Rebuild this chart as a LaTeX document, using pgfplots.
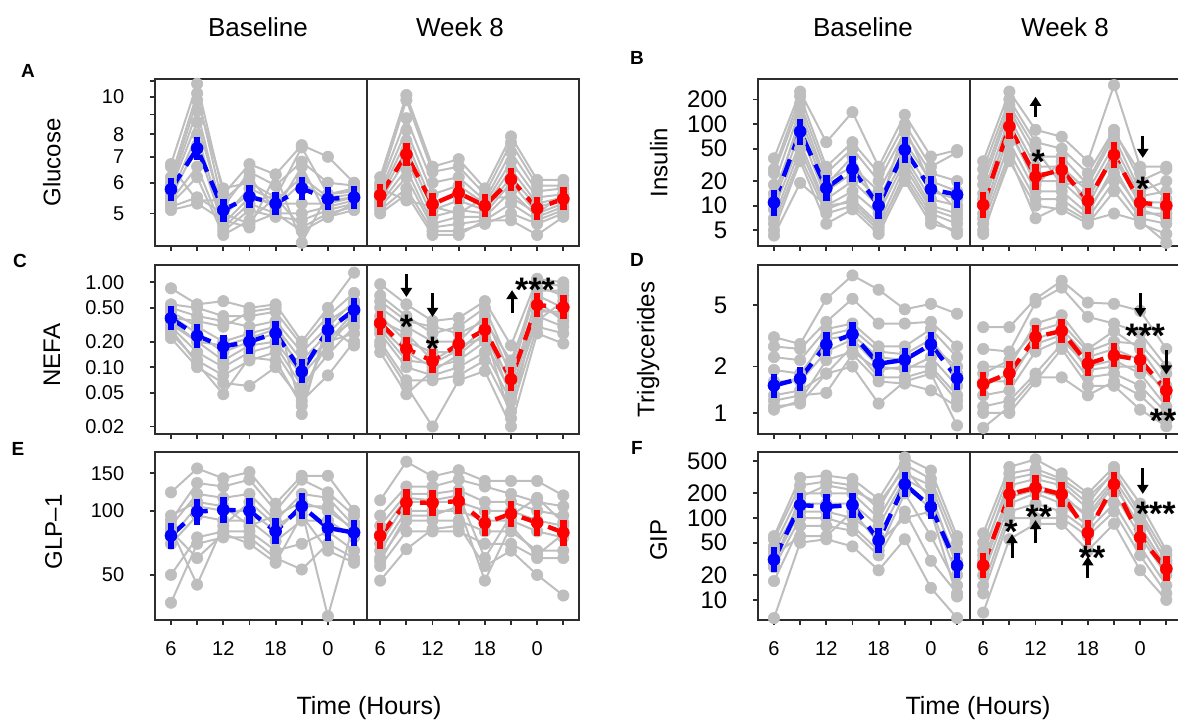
\documentclass[border=0pt]{standalone}
\usepackage{fontspec}
\setmainfont{Liberation Sans}
\usepackage{pgfplots}
\usepackage{pgfplotstable}
\pgfplotsset{compat=1.18}
\usetikzlibrary{arrows.meta}
\definecolor{gr}{RGB}{190,190,190}
\definecolor{mb}{RGB}{0,0,255}
\definecolor{mr}{RGB}{255,0,0}
\definecolor{fr}{RGB}{45,45,45}
% mean values: t = time index, b = baseline, r = week 8
\pgfplotstableread{
t b r
1 5.77 5.57
2 7.36 7.1
3 5.1 5.28
4 5.52 5.65
5 5.3 5.23
6 5.8 6.12
7 5.45 5.15
8 5.5 5.45
}\mA
\pgfplotstableread{
t b r
1 10.9 10.2
2 81 93.5
3 16.4 22.7
4 28 27.4
5 10 11.5
6 48.3 42
7 15.9 10.9
8 13.6 10.0
}\mB
\pgfplotstableread{
t b r
1 0.377 0.33
2 0.234 0.165
3 0.175 0.118
4 0.2 0.187
5 0.251 0.275
6 0.089 0.072
7 0.275 0.54
8 0.472 0.508
}\mC
\pgfplotstableread{
t b r
1 1.506 1.545
2 1.667 1.81
3 2.78 3.11
4 3.24 3.4
5 2.085 2.085
6 2.21 2.36
7 2.78 2.21
8 1.68 1.40
}\mD
\pgfplotstableread{
t b r
1 76.5 76.3
2 99 109.4
3 101 109
4 100 111
5 80 87.5
6 105 96.8
7 83 88
8 79 79
}\mE
\pgfplotstableread{
t b r
1 31 26.4
2 144 195
3 137 234
4 144 195
5 53.5 66
6 258 258
7 137 58
8 26.4 24
}\mF
\pgfplotsset{
  pnl/.style={
    scale only axis, width=211.85pt, xmin=0.4, xmax=16.6,
    clip=false,
    axis line style={fr, line width=0.9pt},
    tick style={fr, line width=0.9pt},
    major tick length=2.5pt, tick align=outside,
    xtick={1,...,16}, xticklabels={},
    xtick pos=bottom, ytick pos=left,
    yminorticks=false, xminorticks=false,
    ticklabel style={font=\fontsize{10}{12}\selectfont},
    yticklabel style={xshift=-9.5pt},
    ylabel style={font=\fontsize{12}{14}\selectfont, anchor=center},
  },
  bigy/.style={yticklabel style={font=\fontsize{12}{14}\selectfont}},
  gl/.style={gr, line width=1pt, mark=*, mark size=2.85pt, mark options={gr, solid, line width=0.3pt}},
  wk/.style={x filter/.expression={x+8}},
  mline/.style={line width=2.2pt, dash pattern=on 9pt off 5pt, mark=*, mark size=3pt,
    mark options={solid, line width=0.3pt}},
  ebar/.style={only marks, mark=|, mark size=#1, mark options={line width=3.2pt, solid}},
  botlab/.style={xticklabels={6,,12,,18,,0,,6,,12,,18,,0,}, xticklabel style={yshift=-4.5pt}},
}
\tikzset{
  arr/.style={-{Triangle[width=5.5pt,length=4.5pt]}, line width=1.5pt, black},
  ast/.style={font=\fontsize{17}{17}\selectfont\bfseries, anchor=base, yshift=-9.4pt, inner sep=0pt},
}
\newcommand\means[2]{%
\addplot[mb, ebar=#2] table[x=t,y=b]{#1};
\addplot[mr, ebar=#2] table[x expr=\thisrow{t}+8,y=r]{#1};
\addplot[mb, mline] table[x=t,y=b]{#1};
\addplot[mr, mline] table[x expr=\thisrow{t}+8,y=r]{#1};
}
\begin{document}
\begin{tikzpicture}
\useasboundingbox (0,0) rectangle (589pt,359.5pt);
\clip (0,0) rectangle (589pt,359.5pt);

% ---------------- A: Glucose ----------------
\begin{axis}[pnl, ymode=log, at={(77.65pt,236.5pt)}, anchor=south west, height=83.5pt, ymin=4.12, ymax=11.11,
  ytick={5,6,7,8,9,10,11}, yticklabels={5,6,7,8,,10,},
  ylabel={Glucose}, ylabel style={at={(axis description cs:-0.244,0.5)}}]
\addplot[gl] coordinates{(1,6.7)(2,10.8)(3,5.6)(4,6.7)(5,6.3)(6,7.5)(7,7.0)(8,6.0)};
\addplot[gl] coordinates{(1,6.2)(2,10.2)(3,5.2)(4,6.4)(5,5.9)(6,6.8)(7,6.0)(8,5.9)};
\addplot[gl] coordinates{(1,6.0)(2,9.8)(3,5.8)(4,6.0)(5,5.5)(6,7.4)(7,5.6)(8,5.8)};
\addplot[gl] coordinates{(1,5.9)(2,9.2)(3,4.9)(4,5.8)(5,5.4)(6,6.2)(7,5.5)(8,5.6)};
\addplot[gl] coordinates{(1,5.8)(2,8.6)(3,5.0)(4,5.6)(5,5.2)(6,6.0)(7,5.4)(8,5.5)};
\addplot[gl] coordinates{(1,5.6)(2,8.0)(3,4.7)(4,5.5)(5,5.3)(6,5.3)(7,5.3)(8,5.5)};
\addplot[gl] coordinates{(1,5.5)(2,7.5)(3,4.6)(4,5.3)(5,5.0)(6,5.0)(7,5.2)(8,5.4)};
\addplot[gl] coordinates{(1,5.4)(2,6.6)(3,4.5)(4,5.1)(5,4.9)(6,4.8)(7,5.1)(8,5.3)};
\addplot[gl] coordinates{(1,5.3)(2,6.2)(3,4.4)(4,4.8)(5,5.5)(6,4.6)(7,5.0)(8,5.2)};
\addplot[gl] coordinates{(1,5.2)(2,5.5)(3,5.0)(4,4.7)(5,5.0)(6,4.5)(7,4.9)(8,5.1)};
\addplot[gl] coordinates{(1,5.1)(2,5.3)(3,4.8)(4,4.6)(5,6.3)(6,4.2)(7,5.6)(8,5.7)};
\addplot[gl] coordinates{(1,6.6)(2,5.4)(3,5.4)(4,6.2)(5,5.1)(6,6.6)(7,4.9)(8,5.3)};
\addplot[gl,wk] coordinates{(1,6.2)(2,10.1)(3,6.6)(4,6.9)(5,5.8)(6,7.9)(7,6.1)(8,6.1)};
\addplot[gl,wk] coordinates{(1,6.0)(2,9.8)(3,6.4)(4,6.6)(5,5.6)(6,7.6)(7,5.9)(8,5.9)};
\addplot[gl,wk] coordinates{(1,5.9)(2,8.8)(3,6.0)(4,6.2)(5,5.4)(6,7.2)(7,5.7)(8,5.8)};
\addplot[gl,wk] coordinates{(1,5.7)(2,8.2)(3,5.6)(4,5.9)(5,5.3)(6,6.8)(7,5.5)(8,5.6)};
\addplot[gl,wk] coordinates{(1,5.6)(2,7.7)(3,5.3)(4,5.6)(5,5.2)(6,6.5)(7,5.3)(8,5.5)};
\addplot[gl,wk] coordinates{(1,5.5)(2,7.3)(3,5.1)(4,5.4)(5,5.1)(6,6.2)(7,5.2)(8,5.4)};
\addplot[gl,wk] coordinates{(1,5.4)(2,6.9)(3,4.9)(4,5.1)(5,5.0)(6,6.0)(7,5.0)(8,5.3)};
\addplot[gl,wk] coordinates{(1,5.3)(2,6.5)(3,4.7)(4,4.9)(5,4.9)(6,5.7)(7,4.9)(8,5.2)};
\addplot[gl,wk] coordinates{(1,5.2)(2,6.2)(3,4.6)(4,4.7)(5,4.8)(6,5.3)(7,4.8)(8,5.1)};
\addplot[gl,wk] coordinates{(1,5.1)(2,5.8)(3,4.5)(4,4.5)(5,4.7)(6,5.0)(7,4.7)(8,5.0)};
\addplot[gl,wk] coordinates{(1,5.0)(2,5.6)(3,4.4)(4,4.4)(5,4.8)(6,4.8)(7,4.4)(8,4.9)};
\addplot[gl,wk] coordinates{(1,5.8)(2,5.4)(3,5.2)(4,5.0)(5,5.5)(6,5.5)(7,5.0)(8,5.6)};
\draw[fr, line width=0.9pt] (rel axis cs:0.5,0) -- (rel axis cs:0.5,1);
\means{\mA}{5.75pt}
\end{axis}

% ---------------- B: Insulin ----------------
\begin{axis}[pnl, bigy, ymode=log, at={(379.15pt,236.5pt)}, anchor=south west, height=83.5pt, ymin=3.2, ymax=357,
  ytick={5,10,20,50,100,200}, yticklabels={5,10,20,50,100,200},
  ylabel={Insulin}, ylabel style={at={(axis description cs:-0.235,0.5)}}]
\addplot[gl] coordinates{(1,38)(2,250)(3,60)(4,140)(5,30)(6,130)(7,40)(8,48)};
\addplot[gl] coordinates{(1,28)(2,220)(3,30)(4,60)(5,25)(6,100)(7,30)(8,45)};
\addplot[gl] coordinates{(1,25)(2,180)(3,25)(4,50)(5,20)(6,80)(7,25)(8,20)};
\addplot[gl] coordinates{(1,18)(2,150)(3,20)(4,30)(5,15)(6,60)(7,20)(8,15)};
\addplot[gl] coordinates{(1,14)(2,100)(3,15)(4,25)(5,12)(6,50)(7,15)(8,12)};
\addplot[gl] coordinates{(1,11)(2,80)(3,12)(4,20)(5,10)(6,40)(7,12)(8,10)};
\addplot[gl] coordinates{(1,9)(2,60)(3,10)(4,15)(5,8)(6,35)(7,10)(8,8)};
\addplot[gl] coordinates{(1,7)(2,50)(3,9)(4,12)(5,6)(6,30)(7,9)(8,7)};
\addplot[gl] coordinates{(1,6)(2,40)(3,8)(4,10)(5,5)(6,25)(7,8)(8,6)};
\addplot[gl] coordinates{(1,5)(2,35)(3,6)(4,9)(5,4.5)(6,20)(7,6)(8,5)};
\addplot[gl] coordinates{(1,4.3)(2,19)(3,10)(4,11)(5,5.5)(6,22)(7,7)(8,4.5)};
\addplot[gl] coordinates{(1,12)(2,120)(3,18)(4,40)(5,9)(6,90)(7,18)(8,9)};
\addplot[gl,wk] coordinates{(1,35)(2,250)(3,85)(4,70)(5,35)(6,300)(7,30)(8,30)};
\addplot[gl,wk] coordinates{(1,28)(2,200)(3,60)(4,50)(5,25)(6,85)(7,20)(8,28)};
\addplot[gl,wk] coordinates{(1,18)(2,150)(3,40)(4,40)(5,18)(6,70)(7,15)(8,20)};
\addplot[gl,wk] coordinates{(1,14)(2,120)(3,30)(4,30)(5,15)(6,55)(7,13)(8,15)};
\addplot[gl,wk] coordinates{(1,10)(2,100)(3,25)(4,25)(5,12)(6,45)(7,11)(8,11)};
\addplot[gl,wk] coordinates{(1,8)(2,80)(3,20)(4,20)(5,10)(6,40)(7,10)(8,9)};
\addplot[gl,wk] coordinates{(1,7)(2,60)(3,15)(4,15)(5,8)(6,30)(7,8)(8,8)};
\addplot[gl,wk] coordinates{(1,6)(2,45)(3,12)(4,12)(5,7)(6,20)(7,7)(8,6)};
\addplot[gl,wk] coordinates{(1,5)(2,35)(3,10)(4,9)(5,6)(6,15)(7,6)(8,4.5)};
\addplot[gl,wk] coordinates{(1,4.5)(2,40)(3,7)(4,10)(5,6.5)(6,8)(7,6.5)(8,3.5)};
\addplot[gl,wk] coordinates{(1,12)(2,90)(3,18)(4,35)(5,9)(6,25)(7,9)(8,7)};
\addplot[gl,wk] coordinates{(1,22)(2,170)(3,50)(4,18)(5,20)(6,80)(7,25)(8,12)};
\draw[fr, line width=0.9pt] (rel axis cs:0.5,0) -- (rel axis cs:0.5,1);
\means{\mB}{6.5pt}
\coordinate (b1) at (axis cs:11,123); \coordinate (b2) at (axis cs:11,216);
\coordinate (b3) at (axis cs:11.1,42);
\coordinate (b4) at (axis cs:15.1,72); \coordinate (b5) at (axis cs:15.1,38.5);
\coordinate (b6) at (axis cs:15.1,19.5);
\end{axis}
\draw[arr] (b1) -- (b2); \node[ast] at (b3) {*};
\draw[arr] (b4) -- (b5); \node[ast] at (b6) {*};

% ---------------- C: NEFA ----------------
\begin{axis}[pnl, ymode=log, at={(77.65pt,142.5pt)}, anchor=south west, height=84.5pt, ymin=0.0163, ymax=1.6,
  ytick={0.02,0.05,0.1,0.2,0.5,1}, yticklabels={0.02,0.05,0.10,0.20,0.50,1.00},
  ylabel={NEFA}, ylabel style={at={(axis description cs:-0.244,0.467)}}]
\addplot[gl] coordinates{(1,0.85)(2,0.55)(3,0.6)(4,0.5)(5,0.55)(6,0.2)(7,0.5)(8,1.3)};
\addplot[gl] coordinates{(1,0.55)(2,0.5)(3,0.4)(4,0.4)(5,0.45)(6,0.18)(7,0.4)(8,0.75)};
\addplot[gl] coordinates{(1,0.5)(2,0.4)(3,0.35)(4,0.3)(5,0.35)(6,0.15)(7,0.3)(8,0.6)};
\addplot[gl] coordinates{(1,0.45)(2,0.3)(3,0.2)(4,0.25)(5,0.3)(6,0.12)(7,0.25)(8,0.5)};
\addplot[gl] coordinates{(1,0.4)(2,0.25)(3,0.15)(4,0.2)(5,0.25)(6,0.1)(7,0.2)(8,0.45)};
\addplot[gl] coordinates{(1,0.35)(2,0.2)(3,0.12)(4,0.18)(5,0.2)(6,0.08)(7,0.18)(8,0.4)};
\addplot[gl] coordinates{(1,0.3)(2,0.15)(3,0.1)(4,0.15)(5,0.18)(6,0.06)(7,0.14)(8,0.3)};
\addplot[gl] coordinates{(1,0.25)(2,0.12)(3,0.08)(4,0.12)(5,0.15)(6,0.05)(7,0.2)(8,0.25)};
\addplot[gl] coordinates{(1,0.22)(2,0.1)(3,0.065)(4,0.06)(5,0.1)(6,0.04)(7,0.08)(8,0.2)};
\addplot[gl] coordinates{(1,0.28)(2,0.11)(3,0.048)(4,0.13)(5,0.12)(6,0.035)(7,0.3)(8,0.18)};
\addplot[gl] coordinates{(1,0.38)(2,0.35)(3,0.3)(4,0.45)(5,0.5)(6,0.028)(7,0.35)(8,0.55)};
\addplot[gl] coordinates{(1,0.32)(2,0.2)(3,0.18)(4,0.22)(5,0.28)(6,0.09)(7,0.22)(8,0.35)};
\addplot[gl,wk] coordinates{(1,0.95)(2,0.55)(3,0.35)(4,0.38)(5,0.6)(6,0.18)(7,1.1)(8,1.0)};
\addplot[gl,wk] coordinates{(1,0.7)(2,0.4)(3,0.25)(4,0.3)(5,0.5)(6,0.1)(7,1.0)(8,0.9)};
\addplot[gl,wk] coordinates{(1,0.5)(2,0.3)(3,0.2)(4,0.2)(5,0.4)(6,0.08)(7,0.9)(8,0.7)};
\addplot[gl,wk] coordinates{(1,0.4)(2,0.2)(3,0.15)(4,0.15)(5,0.3)(6,0.06)(7,0.7)(8,0.5)};
\addplot[gl,wk] coordinates{(1,0.3)(2,0.15)(3,0.1)(4,0.12)(5,0.2)(6,0.05)(7,0.5)(8,0.4)};
\addplot[gl,wk] coordinates{(1,0.25)(2,0.1)(3,0.08)(4,0.1)(5,0.15)(6,0.04)(7,0.4)(8,0.3)};
\addplot[gl,wk] coordinates{(1,0.2)(2,0.07)(3,0.07)(4,0.08)(5,0.12)(6,0.03)(7,0.3)(8,0.25)};
\addplot[gl,wk] coordinates{(1,0.18)(2,0.06)(3,0.02)(4,0.07)(5,0.09)(6,0.02)(7,0.25)(8,0.19)};
\addplot[gl,wk] coordinates{(1,0.15)(2,0.048)(3,0.09)(4,0.14)(5,0.25)(6,0.025)(7,0.6)(8,0.35)};
\addplot[gl,wk] coordinates{(1,0.6)(2,0.35)(3,0.3)(4,0.25)(5,0.35)(6,0.12)(7,0.8)(8,0.8)};
\addplot[gl,wk] coordinates{(1,0.35)(2,0.25)(3,0.12)(4,0.18)(5,0.22)(6,0.07)(7,0.45)(8,0.45)};
\addplot[gl,wk] coordinates{(1,0.28)(2,0.12)(3,0.11)(4,0.16)(5,0.28)(6,0.045)(7,0.35)(8,0.6)};
\draw[fr, line width=0.9pt] (rel axis cs:0.5,0) -- (rel axis cs:0.5,1);
\means{\mC}{6pt}
\coordinate (c1) at (axis cs:10,1.25); \coordinate (c2) at (axis cs:10,0.672);
\coordinate (c3) at (axis cs:10,0.36);
\coordinate (c4) at (axis cs:11,0.748); \coordinate (c5) at (axis cs:11,0.391);
\coordinate (c6) at (axis cs:11,0.198);
\coordinate (c7) at (axis cs:14.04,0.435); \coordinate (c8) at (axis cs:14.04,0.81);
\coordinate (c9) at (axis cs:14.92,1.0);
\end{axis}
\draw[arr] (c1) -- (c2); \node[ast] at (c3) {*};
\draw[arr] (c4) -- (c5); \node[ast] at (c6) {*};
\draw[arr] (c7) -- (c8); \node[ast] at (c9) {***};

% ---------------- D: Triglycerides ----------------
\begin{axis}[pnl, bigy, ymode=log, at={(379.15pt,142.5pt)}, anchor=south west, height=84.5pt, ymin=0.73, ymax=9.11,
  ytick={1,2,5}, yticklabels={1,2,5},
  ylabel={Triglycerides}, ylabel style={at={(axis description cs:-0.26,0.5)}}]
\addplot[gl] coordinates{(1,3.1)(2,2.8)(3,5.5)(4,7.8)(5,6.3)(6,4.7)(7,5.1)(8,4.4)};
\addplot[gl] coordinates{(1,2.7)(2,2.6)(3,3.9)(4,5.5)(5,3.8)(6,3.8)(7,3.9)(8,2.7)};
\addplot[gl] coordinates{(1,2.3)(2,2.2)(3,3.5)(4,3.8)(5,2.7)(6,2.7)(7,3.5)(8,2.3)};
\addplot[gl] coordinates{(1,1.9)(2,1.8)(3,3.0)(4,3.2)(5,2.3)(6,2.2)(7,2.7)(8,2.0)};
\addplot[gl] coordinates{(1,1.6)(2,1.6)(3,2.5)(4,3.0)(5,2.0)(6,1.9)(7,2.3)(8,1.5)};
\addplot[gl] coordinates{(1,1.3)(2,1.4)(3,1.8)(4,2.7)(5,1.7)(6,1.7)(7,1.9)(8,1.2)};
\addplot[gl] coordinates{(1,1.2)(2,1.3)(3,1.35)(4,2.4)(5,1.6)(6,1.55)(7,1.4)(8,1.1)};
\addplot[gl] coordinates{(1,1.1)(2,1.15)(3,1.8)(4,2.0)(5,1.15)(6,1.6)(7,1.8)(8,0.83)};
\addplot[gl] coordinates{(1,1.05)(2,1.2)(3,2.2)(4,2.5)(5,1.9)(6,2.0)(7,2.0)(8,1.3)};
\addplot[gl] coordinates{(1,1.5)(2,1.7)(3,3.2)(4,3.5)(5,2.5)(6,2.4)(7,3.0)(8,1.8)};
\addplot[gl,wk] coordinates{(1,3.6)(2,3.6)(3,5.5)(4,7.2)(5,5.2)(6,5.1)(7,4.6)(8,2.6)};
\addplot[gl,wk] coordinates{(1,2.6)(2,2.5)(3,5.2)(4,6.5)(5,4.2)(6,3.8)(7,3.3)(8,2.0)};
\addplot[gl,wk] coordinates{(1,2.0)(2,2.0)(3,3.8)(4,4.3)(5,2.6)(6,3.4)(7,2.6)(8,1.5)};
\addplot[gl,wk] coordinates{(1,1.6)(2,1.6)(3,3.0)(4,3.5)(5,2.3)(6,2.6)(7,2.2)(8,1.3)};
\addplot[gl,wk] coordinates{(1,1.3)(2,1.4)(3,2.5)(4,3.0)(5,2.0)(6,2.2)(7,1.8)(8,1.1)};
\addplot[gl,wk] coordinates{(1,1.1)(2,1.2)(3,1.8)(4,2.8)(5,1.7)(6,1.8)(7,1.5)(8,1.0)};
\addplot[gl,wk] coordinates{(1,1.0)(2,1.0)(3,1.6)(4,2.6)(5,1.5)(6,1.5)(7,1.05)(8,0.82)};
\addplot[gl,wk] coordinates{(1,0.8)(2,1.1)(3,1.7)(4,1.7)(5,1.3)(6,1.6)(7,1.3)(8,0.9)};
\addplot[gl,wk] coordinates{(1,1.5)(2,1.8)(3,2.8)(4,3.2)(5,1.9)(6,2.0)(7,2.0)(8,1.4)};
\addplot[gl,wk] coordinates{(1,1.8)(2,2.2)(3,3.4)(4,3.8)(5,2.5)(6,2.9)(7,2.8)(8,1.8)};
\draw[fr, line width=0.9pt] (rel axis cs:0.5,0) -- (rel axis cs:0.5,1);
\means{\mD}{6pt}
\coordinate (d1) at (axis cs:15,5.99); \coordinate (d2) at (axis cs:15,4.18);
\coordinate (d3) at (axis cs:15.19,3.54);
\coordinate (d4) at (axis cs:16,2.55); \coordinate (d5) at (axis cs:16,1.776);
\coordinate (d6) at (axis cs:15.88,0.99);
\end{axis}
\draw[arr] (d1) -- (d2); \node[ast] at (d3) {***};
\draw[arr] (d4) -- (d5); \node[ast] at (d6) {**};

% ---------------- E: GLP-1 ----------------
\begin{axis}[pnl, botlab, ymode=log, at={(77.65pt,49.5pt)}, anchor=south west, height=84pt, ymin=30.7, ymax=188.8,
  ytick={50,100,150}, yticklabels={50,100,150},
  ylabel={GLP\textendash1}, ylabel style={at={(axis description cs:-0.24,0.524)}}]
\addplot[gl] coordinates{(1,122)(2,158)(3,142)(4,152)(5,108)(6,146)(7,146)(8,100)};
\addplot[gl] coordinates{(1,90)(2,135)(3,130)(4,140)(5,100)(6,140)(7,122)(8,95)};
\addplot[gl] coordinates{(1,85)(2,120)(3,115)(4,120)(5,90)(6,120)(7,115)(8,85)};
\addplot[gl] coordinates{(1,75)(2,105)(3,100)(4,100)(5,80)(6,105)(7,105)(8,80)};
\addplot[gl] coordinates{(1,70)(2,95)(3,90)(4,90)(5,72)(6,90)(7,90)(8,75)};
\addplot[gl] coordinates{(1,50)(2,75)(3,80)(4,80)(5,65)(6,70)(7,80)(8,65)};
\addplot[gl] coordinates{(1,37)(2,70)(3,75)(4,75)(5,60)(6,53)(7,70)(8,60)};
\addplot[gl] coordinates{(1,80)(2,60)(3,78)(4,70)(5,57)(6,95)(7,65)(8,57)};
\addplot[gl] coordinates{(1,82)(2,45)(3,85)(4,110)(5,85)(6,100)(7,32)(8,88)};
\addplot[gl] coordinates{(1,95)(2,110)(3,105)(4,85)(5,95)(6,110)(7,100)(8,82)};
\addplot[gl,wk] coordinates{(1,112)(2,170)(3,145)(4,155)(5,138)(6,138)(7,138)(8,118)};
\addplot[gl,wk] coordinates{(1,95)(2,130)(3,130)(4,140)(5,130)(6,120)(7,110)(8,105)};
\addplot[gl,wk] coordinates{(1,85)(2,120)(3,120)(4,125)(5,110)(6,110)(7,100)(8,95)};
\addplot[gl,wk] coordinates{(1,70)(2,110)(3,110)(4,110)(5,100)(6,100)(7,90)(8,85)};
\addplot[gl,wk] coordinates{(1,65)(2,100)(3,100)(4,100)(5,90)(6,90)(7,80)(8,75)};
\addplot[gl,wk] coordinates{(1,60)(2,90)(3,90)(4,90)(5,80)(6,80)(7,65)(8,65)};
\addplot[gl,wk] coordinates{(1,55)(2,80)(3,80)(4,80)(5,70)(6,70)(7,60)(8,60)};
\addplot[gl,wk] coordinates{(1,47)(2,66)(3,82)(4,85)(5,55)(6,65)(7,50)(8,40)};
\addplot[gl,wk] coordinates{(1,58)(2,95)(3,95)(4,105)(5,47)(6,85)(7,62)(8,78)};
\addplot[gl,wk] coordinates{(1,78)(2,115)(3,112)(4,118)(5,60)(6,95)(7,115)(8,88)};
\draw[fr, line width=0.9pt] (rel axis cs:0.5,0) -- (rel axis cs:0.5,1);
\means{\mE}{6.5pt}
\end{axis}

% ---------------- F: GIP ----------------
\begin{axis}[pnl, bigy, botlab, ymode=log, at={(379.15pt,49.5pt)}, anchor=south west, height=84pt, ymin=5.68, ymax=640,
  ytick={10,20,50,100,200,500}, yticklabels={10,20,50,100,200,500},
  ylabel={GIP}, ylabel style={at={(axis description cs:-0.235,0.476)}}]
\addplot[gl] coordinates{(1,60)(2,310)(3,330)(4,300)(5,170)(6,550)(7,380)(8,60)};
\addplot[gl] coordinates{(1,55)(2,250)(3,280)(4,250)(5,130)(6,450)(7,300)(8,50)};
\addplot[gl] coordinates{(1,45)(2,200)(3,200)(4,200)(5,100)(6,350)(7,250)(8,40)};
\addplot[gl] coordinates{(1,40)(2,150)(3,150)(4,150)(5,80)(6,300)(7,200)(8,25)};
\addplot[gl] coordinates{(1,30)(2,120)(3,120)(4,100)(5,60)(6,250)(7,130)(8,20)};
\addplot[gl] coordinates{(1,25)(2,100)(3,100)(4,80)(5,40)(6,200)(7,60)(8,15)};
\addplot[gl] coordinates{(1,17)(2,80)(3,80)(4,70)(5,35)(6,120)(7,30)(8,12)};
\addplot[gl] coordinates{(1,6)(2,50)(3,55)(4,45)(5,23)(6,55)(7,14)(8,6)};
\addplot[gl] coordinates{(1,35)(2,60)(3,60)(4,120)(5,50)(6,100)(7,120)(8,11)};
\addplot[gl] coordinates{(1,28)(2,180)(3,250)(4,220)(5,150)(6,400)(7,170)(8,30)};
\addplot[gl,wk] coordinates{(1,65)(2,420)(3,520)(4,350)(5,200)(6,420)(7,150)(8,40)};
\addplot[gl,wk] coordinates{(1,50)(2,350)(3,400)(4,300)(5,180)(6,350)(7,120)(8,35)};
\addplot[gl,wk] coordinates{(1,40)(2,250)(3,300)(4,250)(5,130)(6,300)(7,100)(8,30)};
\addplot[gl,wk] coordinates{(1,30)(2,200)(3,250)(4,200)(5,100)(6,250)(7,80)(8,25)};
\addplot[gl,wk] coordinates{(1,20)(2,150)(3,200)(4,150)(5,80)(6,200)(7,60)(8,20)};
\addplot[gl,wk] coordinates{(1,15)(2,120)(3,150)(4,120)(5,70)(6,150)(7,45)(8,15)};
\addplot[gl,wk] coordinates{(1,12)(2,100)(3,100)(4,100)(5,60)(6,120)(7,35)(8,12)};
\addplot[gl,wk] coordinates{(1,7)(2,55)(3,85)(4,85)(5,40)(6,85)(7,23)(8,10)};
\addplot[gl,wk] coordinates{(1,25)(2,180)(3,220)(4,180)(5,110)(6,280)(7,70)(8,22)};
\addplot[gl,wk] coordinates{(1,35)(2,300)(3,350)(4,280)(5,150)(6,380)(7,110)(8,28)};
\draw[fr, line width=0.9pt] (rel axis cs:0.5,0) -- (rel axis cs:0.5,1);
\means{\mF}{6.25pt}
\coordinate (f1) at (axis cs:10.06,81.8);
\coordinate (f2) at (axis cs:10.1,32.2); \coordinate (f3) at (axis cs:10.1,63.4);
\coordinate (f4) at (axis cs:11.13,125);
\coordinate (f5) at (axis cs:11,49.2); \coordinate (f6) at (axis cs:11,94.3);
\coordinate (f7) at (axis cs:13.16,40.3);
\coordinate (f8) at (axis cs:13,18.3); \coordinate (f9) at (axis cs:13,34);
\coordinate (f10) at (axis cs:15.1,410); \coordinate (f11) at (axis cs:15.1,197);
\coordinate (f12) at (axis cs:15.6,136);
\end{axis}
\node[ast] at (f1) {*}; \draw[arr] (f2) -- (f3);
\node[ast] at (f4) {**}; \draw[arr] (f5) -- (f6);
\node[ast] at (f7) {**}; \draw[arr] (f8) -- (f9);
\draw[arr] (f10) -- (f11); \node[ast] at (f12) {***};

% ---------------- text ----------------
\node[font=\fontsize{13}{15}\selectfont, anchor=base] at (129pt,341pt) {Baseline};
\node[font=\fontsize{13}{15}\selectfont, anchor=base] at (230pt,341pt) {Week 8};
\node[font=\fontsize{13}{15}\selectfont, anchor=base] at (431.5pt,341pt) {Baseline};
\node[font=\fontsize{13}{15}\selectfont, anchor=base] at (532.5pt,341pt) {Week 8};
\node[font=\fontsize{12.5}{14}\selectfont, anchor=base] at (184.5pt,2.5pt) {Time (Hours)};
\node[font=\fontsize{12.5}{14}\selectfont, anchor=base] at (489pt,2.5pt) {Time (Hours)};
\node[font=\fontsize{9.5}{11}\selectfont\bfseries] at (14pt,324pt) {A};
\node[font=\fontsize{9.5}{11}\selectfont\bfseries] at (318.5pt,330.5pt) {B};
\node[font=\fontsize{9.5}{11}\selectfont\bfseries] at (10pt,229pt) {C};
\node[font=\fontsize{9.5}{11}\selectfont\bfseries] at (318.5pt,229.5pt) {D};
\node[font=\fontsize{9.5}{11}\selectfont\bfseries] at (9pt,135pt) {E};
\node[font=\fontsize{9.5}{11}\selectfont\bfseries] at (318.5pt,135.5pt) {F};
\end{tikzpicture}
\end{document}
